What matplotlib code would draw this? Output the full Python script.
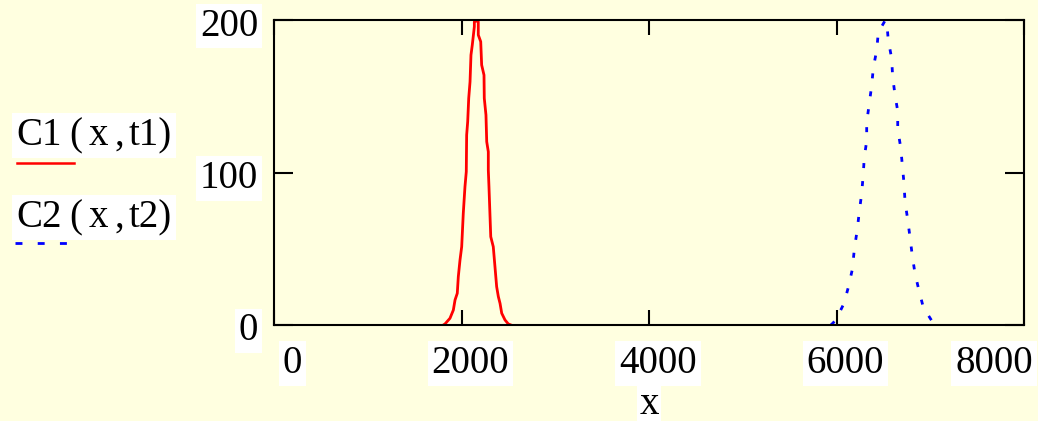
import matplotlib
matplotlib.use("Agg")
import matplotlib.pyplot as plt
from matplotlib.lines import Line2D
from matplotlib.transforms import offset_copy

plt.rcParams['font.family'] = ['Liberation Serif', 'DejaVu Serif']
plt.rcParams['lines.scale_dashes'] = False

# values
c1_x = [1806, 1824, 1877, 1913, 1931, 1955, 1966, 1984, 2002, 2019, 2037,
        2051, 2055, 2066, 2077, 2091, 2101, 2115, 2137, 2137, 2162, 2179,
        2179, 2205, 2215, 2240, 2243, 2261, 2269, 2286, 2286, 2293, 2312,
        2339, 2357, 2375, 2393, 2411, 2429, 2464, 2499, 2528]
c1_y = [0, 0.7, 4.4, 9.8, 16.4, 20.8, 31.7, 42.6, 51.3, 73.2, 90.7,
        100.5, 124.6, 133.3, 148.7, 159.5, 177, 183.6, 195.6, 198.9, 199.3, 198.9,
        190.2, 185.8, 170.5, 163.9, 148.7, 137.7, 120.2, 113.6, 101.6, 90.7, 57.9,
        51.3, 38.2, 25.1, 18.6, 14.2, 7.7, 3.3, 0.7, 0]

c2_x = [5940, 5966, 6002, 6080, 6126, 6169, 6190, 6222, 6243, 6269, 6286,
        6296, 6322, 6322, 6350, 6375, 6393, 6429, 6446, 6517, 6535, 6552,
        6588, 6599, 6624, 6653, 6653, 6685, 6702, 6720, 6731, 6759, 6784,
        6809, 6837, 6880, 6926, 7022, 7051, 7080]
c2_y = [0, 1.5, 4.4, 14.2, 24.7, 36.5, 49.6, 62.8, 74.3, 86.4, 99.5,
        109.7, 120.7, 132.9, 145.4, 156.9, 168.7, 180.3, 191.9, 199.5, 199.5, 186.9,
        174.9, 162.8, 150.8, 140.3, 128.5, 116.3, 104.9, 92.9, 80.8, 69.3, 57.5,
        45.2, 33.9, 22.5, 11.6, 2.2, 1.5, 0]

x_ticks = [0, 2000, 4000, 6000, 8000]
x_tick_labels = ['0', '2000', '4000', '6000', '8000']
y_ticks = [0, 100, 200]
y_tick_labels = ['0', '100', '200']

legend_rows = [
    # tokens with their left edge in pixels, then the baseline
    ([('C1', 16), ('(', 69), ('x', 89), (',', 115), ('t1)', 129)], 145),
    ([('C2', 16), ('(', 69), ('x', 89), (',', 115), ('t2)', 129)], 227),
]

W, H = 1038, 421
bg = '#ffffe0'
fs = 28
box = dict(boxstyle='square,pad=0.1', fc='white', ec='none')

fig = plt.figure(figsize=(W / 100, H / 100), dpi=100, facecolor=bg)
ax = fig.add_axes([274 / W, 1 - 325 / H, 750 / W, 305 / H])
ax.set_facecolor(bg)

ax.plot(c1_x, c1_y, color='#ff0000', lw=2)
ax.plot(c2_x, c2_y, color='#0000ff', lw=2, dashes=(3.6, 9.4))

ax.set_xlim(0, 8000)
ax.set_ylim(0, 200)
for s in ax.spines.values():
    s.set_linewidth(1.5)
    s.set_color('black')

ax.set_xticks(x_ticks)
ax.set_yticks(y_ticks)
ax.tick_params(axis='x', direction='in', length=10.8, width=1.5, top=True,
               labelbottom=False, color='black')
ax.tick_params(axis='y', direction='in', length=14, width=1.5, right=True,
               labelleft=False, color='black')

# mathcad style tick labels
xt = offset_copy(ax.get_xaxis_transform(), fig=fig, x=9, y=-48, units='dots')
for i, (v, lab) in enumerate(zip(x_ticks, x_tick_labels)):
    ha = 'center'
    if i == 0:
        ha = 'left'
    elif i == len(x_ticks) - 1:
        ha = 'right'
    ax.text(v, 0, lab, transform=xt, ha=ha, va='baseline', fontsize=fs,
            bbox=box, clip_on=False)

yt = offset_copy(ax.get_yaxis_transform(), fig=fig, x=-16, y=-15.5, units='dots')
for v, lab in zip(y_ticks, y_tick_labels):
    ax.text(0, v, lab, transform=yt, ha='right', va='baseline', fontsize=fs,
            bbox=box, clip_on=False)

fig.text(649 / W, 1 - 414 / H, 'x', ha='center', va='baseline', fontsize=fs,
         bbox=dict(boxstyle='square,pad=0.05', fc='white', ec='none'))

# legend
for tokens, base in legend_rows:
    for tok, left in tokens:
        fig.text(left / W, 1 - base / H, tok, ha='left', va='baseline',
                 fontsize=fs, bbox=box)

fig.add_artist(Line2D([17 / W, 74 / W], [1 - 163 / H, 1 - 163 / H],
                      transform=fig.transFigure, color='#ff0000', lw=1.8))
fig.add_artist(Line2D([15 / W, 67 / W], [1 - 243 / H, 1 - 243 / H],
                      transform=fig.transFigure, color='#0000ff', lw=2,
                      dashes=(5, 11)))

fig.savefig('out.png', dpi=100, facecolor=bg)
